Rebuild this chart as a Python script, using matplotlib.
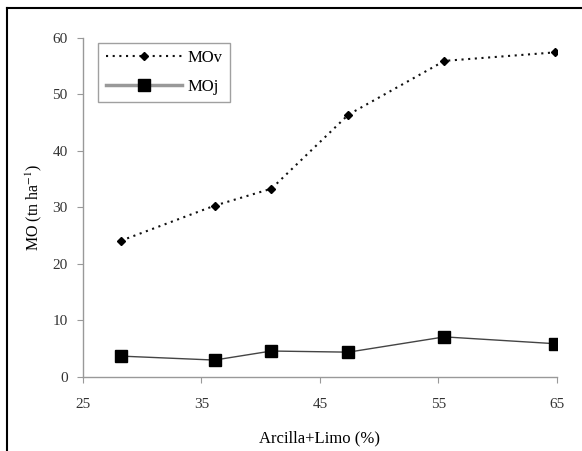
import matplotlib.pyplot as plt
from matplotlib.lines import Line2D

plt.rcParams['font.family'] = ['Liberation Serif', 'DejaVu Serif']
plt.rcParams['mathtext.fontset'] = 'stix'

# Data
arcilla_limo = [28.2, 36.1, 40.9, 47.4, 55.5, 64.8]
mo_v = [24.1, 30.3, 33.3, 46.4, 55.9, 57.4]
mo_j = [3.7, 3.0, 4.6, 4.4, 7.1, 5.9]
x_ticks = [25, 35, 45, 55, 65]
y_ticks = [0, 10, 20, 30, 40, 50, 60]

fig = plt.figure(figsize=(5.82, 4.51), dpi=100)
ax = fig.add_axes([0.1426, 0.164, 0.8144, 0.7524])

ax.plot(arcilla_limo, mo_v, linestyle=(0, (1, 2.2)), color='#111111', linewidth=1.5,
        marker='D', markersize=4.5, markerfacecolor='black',
        markeredgecolor='black', label='MOv')
ax.plot(arcilla_limo, mo_j, linestyle='-', color='#444444', linewidth=1.0,
        marker='s', markersize=8.5, markerfacecolor='black',
        markeredgecolor='black', label='MOj')

ax.set_xlim(25, 65)
ax.set_ylim(0, 60)
ax.set_xticks(x_ticks)
ax.set_yticks(y_ticks)
ax.set_xlabel('Arcilla+Limo (%)', fontsize=12, labelpad=14)
ax.set_ylabel('MO (tn ha$^{-1}$)', fontsize=11.5, labelpad=6)

for side in ['top', 'right']:
    ax.spines[side].set_visible(False)
for side in ['left', 'bottom']:
    ax.spines[side].set_color('#999999')
    ax.spines[side].set_linewidth(1.0)
ax.tick_params(axis='both', colors='#999999', labelcolor='#333333',
               labelsize=11, length=4, width=0.8)
ax.tick_params(axis='x', pad=11)
ax.tick_params(axis='y', pad=7)

leg = ax.legend(loc='upper left', bbox_to_anchor=(0.032, 0.985), fontsize=12,
                frameon=True, fancybox=False, handlelength=4.6,
                borderpad=0.45, labelspacing=0.75, handletextpad=0.3,
                borderaxespad=0.0)
leg.get_frame().set_edgecolor('#888888')
leg.get_frame().set_linewidth(1.0)
leg.get_lines()[1].set_linewidth(2.5)
leg.get_lines()[1].set_color('#999999')

# frame lines on top and left of the figure
fig.add_artist(Line2D([7 / 582, 7 / 582], [0, 1 - 8 / 451], color='black', linewidth=1.5))
fig.add_artist(Line2D([7 / 582, 1], [1 - 8 / 451, 1 - 8 / 451], color='black', linewidth=1.5))

fig.savefig('out.png', dpi=100)
